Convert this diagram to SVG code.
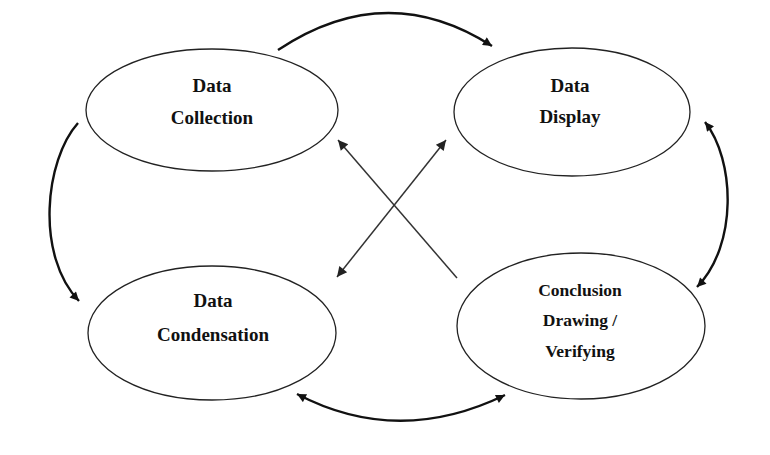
<svg xmlns="http://www.w3.org/2000/svg" width="770" height="455" viewBox="0 0 770 455">
<defs>
<style>
.node ellipse{fill:#fff;stroke:#222;stroke-width:1.3}
.node text{font-family:"Liberation Serif","Times New Roman",serif;font-weight:bold;font-size:19px;fill:#111;text-anchor:middle}
.node.small text{font-size:17.5px}
.arc{fill:none;stroke:#111;stroke-width:2.4}
.cross{fill:none;stroke:#333;stroke-width:1.5}
</style>
<marker id="ah" viewBox="0 0 10 10" refX="10" refY="5" markerWidth="11" markerHeight="9" markerUnits="userSpaceOnUse" orient="auto-start-reverse">
<path d="M0,0 L10,5 L0,10 z" fill="#111"/>
</marker>
<marker id="ah2" viewBox="0 0 10 10" refX="10" refY="5" markerWidth="13" markerHeight="10" markerUnits="userSpaceOnUse" orient="auto-start-reverse">
<path d="M0,0 L10,5 L0,10 z" fill="#222"/>
</marker>
</defs>
<rect width="770" height="455" fill="#fff"/>
<g id="connectors">
<path class="arc" d="M278,50 Q386,-22 492,46" marker-end="url(#ah)"/>
<path class="arc" d="M78,123 C45,160 35,255 79,301" marker-end="url(#ah)"/>
<path class="arc" d="M705,122 C735,160 738,245 697,287" marker-start="url(#ah)" marker-end="url(#ah)"/>
<path class="arc" d="M297,394 Q398,447 505,395" marker-start="url(#ah)" marker-end="url(#ah)"/>
<path class="cross" d="M457,278 L338,140" marker-end="url(#ah2)"/>
<path class="cross" d="M337,277 L446,140" marker-start="url(#ah2)" marker-end="url(#ah2)"/>
</g>
<g id="data-collection" class="node">
<ellipse cx="212" cy="110" rx="126" ry="61"/>
<text x="212" y="92">Data</text>
<text x="212" y="124">Collection</text>
</g>
<g id="data-display" class="node">
<ellipse cx="572" cy="112" rx="118" ry="64"/>
<text x="570" y="92">Data</text>
<text x="570" y="123">Display</text>
</g>
<g id="data-condensation" class="node">
<ellipse cx="212" cy="333" rx="124" ry="67"/>
<text x="213" y="307">Data</text>
<text x="213" y="341">Condensation</text>
</g>
<g id="conclusion" class="node small">
<ellipse cx="581" cy="326" rx="124" ry="73"/>
<text x="580" y="296">Conclusion</text>
<text x="580" y="326">Drawing /</text>
<text x="580" y="357">Verifying</text>
</g>
</svg>
